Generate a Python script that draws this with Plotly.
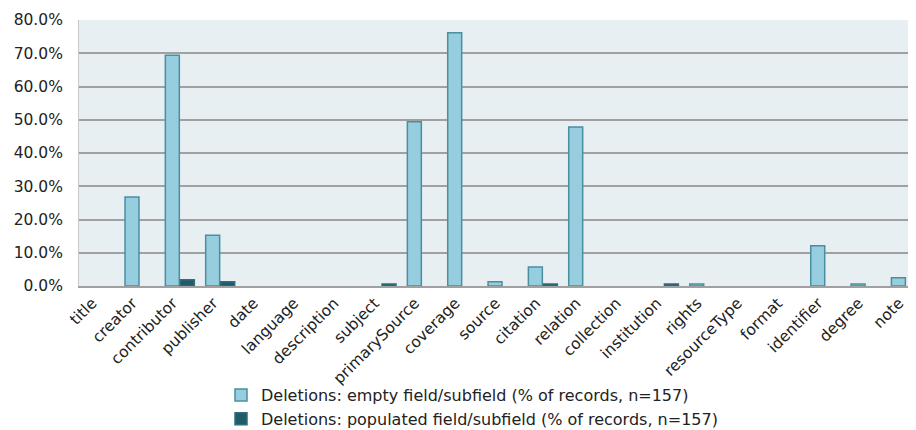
import plotly.graph_objects as go

categories = ["title", "creator", "contributor", "publisher", "date", "language",
              "description", "subject", "primarySource", "coverage", "source",
              "citation", "relation", "collection", "institution", "rights",
              "resourceType", "format", "identifier", "degree", "note"]

empty_pct = [0, 26.8, 69.4, 15.3, 0, 0, 0, 0, 49.4, 76.2, 1.3,
             5.7, 47.8, 0, 0, 0.6, 0, 0, 12.1, 0.6, 2.5]
populated_pct = [0, 0, 1.9, 1.3, 0, 0, 0, 0.6, 0, 0, 0,
                 0.6, 0, 0, 0.6, 0, 0, 0, 0, 0, 0]

series_names = ["Deletions: empty field/subfield (% of records, n=157)",
                "Deletions: populated field/subfield (% of records, n=157)"]

y_ticks = [0, 10, 20, 30, 40, 50, 60, 70, 80]


def nz(vals):
    return [v if v != 0 else None for v in vals]


FONT = "DejaVu Sans"
# the page body has an 8px default margin, so the figure is drawn 8px in
W, H = 908, 422
ML, MT, MB = 71, 12, 144
PLOT_W = W - ML
PLOT_H = H - MT - MB

fig = go.Figure()
fig.add_trace(go.Bar(
    x=categories, y=nz(empty_pct), name=series_names[0],
    marker=dict(color="#96CDDF", line=dict(color="#4A8FA0", width=1.5)),
))
fig.add_trace(go.Bar(
    x=categories, y=nz(populated_pct), name=series_names[1],
    marker=dict(color="#1F5B69", line=dict(color="#2F6E7E", width=1.5)),
))

fig.update_layout(
    width=W, height=H,
    margin=dict(l=ML, r=0, t=MT, b=MB, autoexpand=False),
    paper_bgcolor="white",
    plot_bgcolor="#E8EFF3",
    barmode="group",
    bargap=0.255,
    bargroupgap=0.07,
    font=dict(family=FONT, size=14, color="#222222"),
    showlegend=True,
    legend=dict(
        orientation="v",
        x=(213 - ML) / PLOT_W, xanchor="left",
        y=-92 / PLOT_H, yanchor="top",
        font=dict(family=FONT, size=16, color="#222222"),
        bgcolor="rgba(0,0,0,0)",
        tracegroupgap=0,
        itemwidth=30,
    ),
    xaxis=dict(
        type="category",
        range=[-0.5, 20.25],
        tickangle=-45,
        showgrid=False,
        showline=True, linecolor="#A0A0A0", linewidth=2,
        ticks="",
        ticklabelshift=-7,
        tickfont=dict(family=FONT, size=15.5, color="#222222"),
        automargin=False,
        fixedrange=True,
    ),
    yaxis=dict(
        range=[0, 80],
        tickvals=y_ticks,
        ticktext=[f"{v:.1f}%" for v in y_ticks],
        showgrid=True, gridcolor="#A0A0A0", gridwidth=2,
        zeroline=False,
        showline=True, linecolor="#C8C8C8", linewidth=1,
        ticks="",
        ticklabelstandoff=12,
        tickfont=dict(family=FONT, size=15.5, color="#222222"),
        automargin=False,
        fixedrange=True,
    ),
)

fig.write_html("out.html")
